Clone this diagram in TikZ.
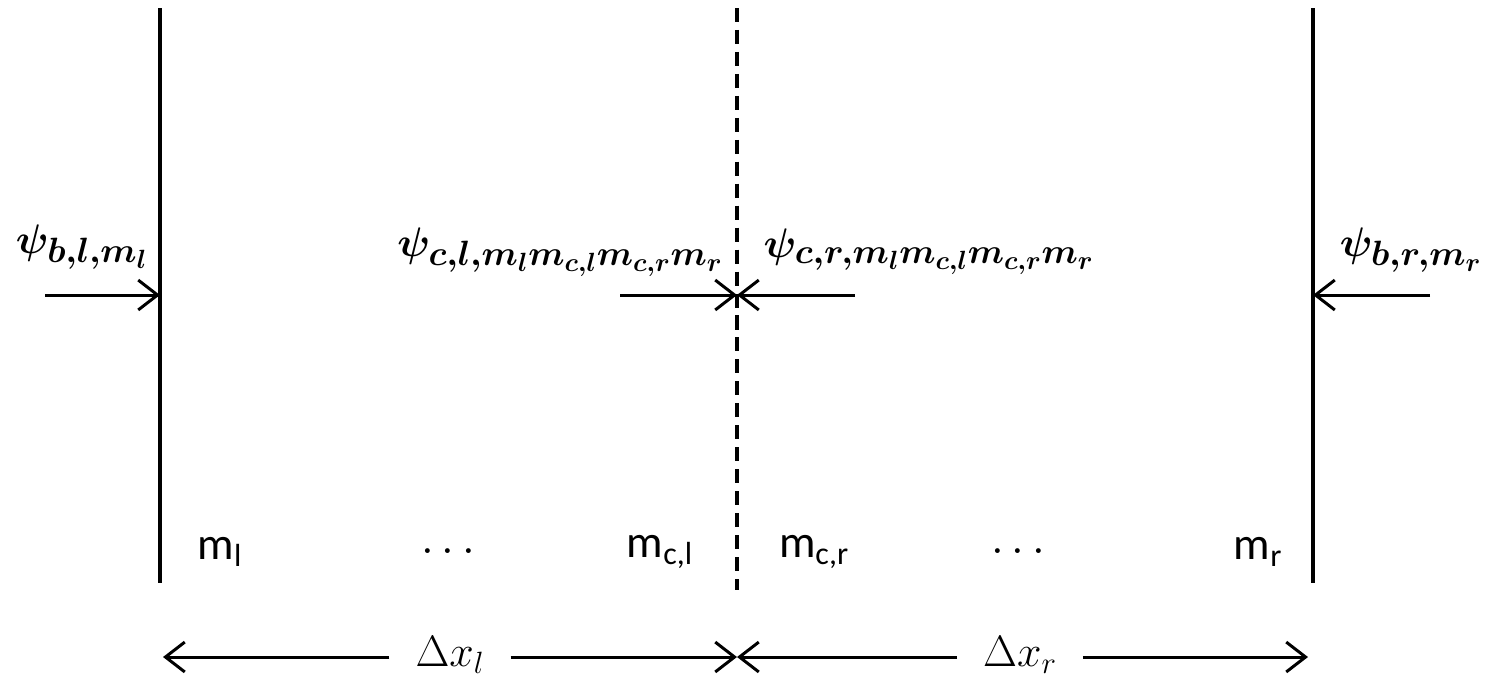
\documentclass[tikz,border=0pt]{standalone}
\usepackage{fix-cm}
\usepackage{amsmath}
\usepackage{fontspec}
\newfontfamily\calib{Carlito}
\usepackage{tikz}
\usetikzlibrary{arrows.meta}
\DeclareMathSizes{23.5}{23.5}{20}{15}

\begin{document}
\begin{tikzpicture}[x=0.02cm, y=-0.02cm, >={Straight Barb[length=11pt,width=17pt]}, line width=1.7pt,
    wall/.style={line width=2.1pt},
    iface/.style={line width=2.6pt, dash pattern=on 8pt off 4.5pt},
    flux/.style={font=\fontsize{23.5}{28}\selectfont\boldmath, inner sep=0pt},
    cell/.style={font=\calib\fontsize{26}{30}\selectfont, inner sep=0pt},
    dimlabel/.style={font=\fontsize{25}{30}\selectfont, inner xsep=14pt, inner ysep=0pt}]
    \useasboundingbox (0,0) rectangle (1486,681);

    \coordinate (lwtop) at (160,8);
    \coordinate (lwbot) at (160,583);
    \coordinate (ctop) at (737,8);
    \coordinate (cbot) at (737,590);
    \coordinate (rwtop) at (1313,8);
    \coordinate (rwbot) at (1313,583);
    \draw[wall] (lwtop) -- (lwbot);
    \draw[iface] (ctop) -- (cbot);
    \draw[wall] (rwtop) -- (rwbot);

    % fluxes into the cells
    \coordinate (lsrc) at (45,295);
    \coordinate (lin) at (160,295);
    \draw[->] (lsrc) -- (lin);
    \node[flux] (psibl) at (82,247) {$\psi_{b,l,m_l}$};

    \coordinate (clsrc) at (620,295);
    \coordinate (crsrc) at (855,295);
    \coordinate (cin) at (737,295);
    \draw[->] (clsrc) -- (cin);
    \draw[->] (crsrc) -- (cin);
    \node[flux, anchor=east] (psicl) at (725,252) {$\psi_{c,l,m_l m_{c,l} m_{c,r} m_r}$};
    \node[flux, anchor=west] (psicr) at (762,252) {$\psi_{c,r,m_l m_{c,l} m_{c,r} m_r}$};

    \coordinate (rsrc) at (1430,295);
    \coordinate (rin) at (1313,295);
    \draw[->] (rsrc) -- (rin);
    \node[flux] (psibr) at (1411,250) {$\psi_{b,r,m_r}$};

    % cells
    \node[cell] (ml) at (220,552) {m\textsubscript{l}};
    \node[cell] (dotsl) at (452,552) {$\cdots$};
    \node[cell] (mcl) at (660,552) {m\textsubscript{c,l}};
    \node[cell] (mcr) at (814,552) {m\textsubscript{c,r}};
    \node[cell] (dotsr) at (1022,552) {$\cdots$};
    \node[cell] (mr) at (1258,552) {m\textsubscript{r}};

    % widths
    \node[dimlabel] (dxl) at (450,655) {$\Delta x_l$};
    \node[dimlabel] (dxr) at (1020,655) {$\Delta x_r$};
    \coordinate (dimL) at (163,657);
    \coordinate (dimC) at (737,657);
    \coordinate (dimR) at (1308,657);
    \draw[->] (dxl.west |- dimL) -- (dimL);
    \draw[->] (dxl.east |- dimC) -- (dimC);
    \draw[->] (dxr.west |- dimC) -- (dimC);
    \draw[->] (dxr.east |- dimR) -- (dimR);
\end{tikzpicture}
\end{document}
